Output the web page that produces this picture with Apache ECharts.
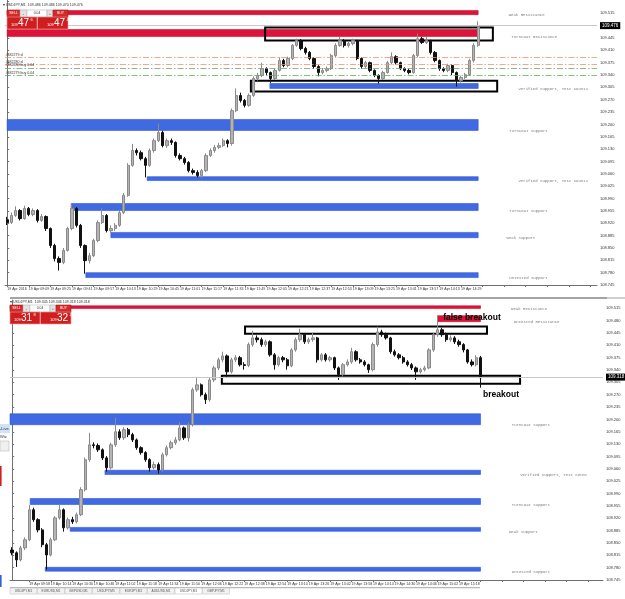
<!DOCTYPE html>
<html><head><meta charset="utf-8">
<script src="https://cdn.jsdelivr.net/npm/echarts@6/dist/echarts.min.js"></script>
<style>html,body{margin:0;padding:0;background:#fff;}#c{width:625px;height:599px;}</style>
</head><body><div id="c"></div><script>
// ================= DATA =================
// Top window (USDJPY M1, earlier snapshot)
const topOpen0 = 108.930;
const topClose = [
108.922,108.942,108.956,108.933,108.962,108.945,108.956,108.928,108.939,108.905,
108.857,108.820,108.809,108.843,108.905,108.962,108.914,108.857,108.814,108.828,
108.871,108.922,108.942,108.899,108.905,108.914,108.950,108.999,109.084,109.126,
109.120,109.103,109.084,109.126,109.154,109.177,109.140,109.154,109.149,109.112,
109.103,109.092,109.069,109.064,109.055,109.069,109.112,109.126,109.135,109.140,
109.154,109.146,109.239,109.282,109.268,109.254,109.282,109.330,109.339,109.358,
109.347,109.330,109.353,109.381,109.367,109.387,109.424,109.438,109.415,109.404,
109.387,109.364,109.347,109.353,109.358,109.395,109.424,109.438,109.424,109.429,
109.438,109.387,109.364,109.375,109.353,109.339,109.330,109.347,109.375,109.392,
109.375,109.358,109.353,109.347,109.395,109.443,109.432,109.438,109.404,109.381,
109.358,109.353,109.367,109.347,109.324,109.333,109.341,109.381,109.424,109.476];
const topHigh = [
108.938,108.950,108.968,108.960,108.970,108.966,108.962,108.960,108.946,108.942,
108.908,108.862,108.826,108.850,108.910,108.976,108.966,108.918,108.860,108.836,
108.876,108.928,108.962,108.946,108.914,108.920,108.956,109.006,109.090,109.145,
109.132,109.126,109.108,109.132,109.160,109.203,109.182,109.160,109.160,109.152,
109.118,109.108,109.096,109.075,109.070,109.074,109.118,109.132,109.142,109.148,
109.160,109.158,109.245,109.302,109.290,109.272,109.288,109.336,109.346,109.375,
109.362,109.350,109.358,109.390,109.386,109.392,109.428,109.443,109.442,109.420,
109.408,109.390,109.368,109.360,109.364,109.400,109.430,109.449,109.442,109.436,
109.443,109.440,109.390,109.380,109.378,109.356,109.342,109.352,109.380,109.404,
109.396,109.378,109.362,109.358,109.400,109.458,109.448,109.449,109.440,109.408,
109.384,109.362,109.372,109.370,109.350,109.338,109.346,109.386,109.430,109.492];
const topLow = [
108.915,108.918,108.938,108.928,108.930,108.940,108.940,108.922,108.924,108.898,
108.850,108.812,108.786,108.804,108.840,108.900,108.908,108.850,108.777,108.806,
108.824,108.866,108.918,108.894,108.893,108.898,108.910,108.946,108.995,109.080,
109.112,109.098,109.050,109.080,109.120,109.150,109.135,109.134,109.142,109.106,
109.098,109.086,109.064,109.058,109.050,109.047,109.065,109.108,109.120,109.130,
109.136,109.135,109.140,109.235,109.262,109.248,109.250,109.278,109.324,109.334,
109.340,109.318,109.326,109.350,109.362,109.362,109.382,109.420,109.410,109.398,
109.382,109.358,109.336,109.342,109.348,109.354,109.390,109.420,109.418,109.418,
109.424,109.382,109.358,109.360,109.348,109.334,109.316,109.326,109.344,109.370,
109.370,109.354,109.348,109.342,109.344,109.390,109.428,109.428,109.398,109.376,
109.352,109.348,109.348,109.340,109.307,109.318,109.328,109.338,109.376,109.420];
const topTickLabels = ['19 Apr 2016','19 Apr 09:09','19 Apr 09:25','19 Apr 09:41','19 Apr 09:57','19 Apr 10:13',
'19 Apr 10:29','19 Apr 10:45','19 Apr 11:01','19 Apr 11:17','19 Apr 11:33','19 Apr 11:49','19 Apr 12:05',
'19 Apr 12:21','19 Apr 12:37','19 Apr 12:53','19 Apr 13:09','19 Apr 13:25','19 Apr 13:41','19 Apr 13:57',
'19 Apr 14:13','19 Apr 14:29'];
const topPrice = 109.476;
const topZoneNames = ['Weak Resistance','Turncoat Resistance','Verified Support, Test Count1','Turncoat Support',
'Verified Support, Test Count1','Turncoat Support','Weak Support','Untested Support'];
const topZoneType = ['res','res','sup','sup','sup','sup','sup','sup'];
const topZoneStart = [0, 0, 60.8, 0, 32.4, 14.8, 24.0, 18.2];
const topZoneEnd = [109, 109, 109, 109, 109, 109, 109, 109];
const topZoneLow = [109.511, 109.449, 109.302, 109.183, 109.041, 108.956, 108.879, 108.766];
const topZoneHigh = [109.523, 109.469, 109.316, 109.214, 109.052, 108.976, 108.894, 108.780];
const topBoxStart = [59.7, 56.4];
const topBoxEnd = [112.4, 113.4];
const topBoxLow = [109.438, 109.293];
const topBoxHigh = [109.475, 109.324];
const topOrderNames = ['#482279 sl', '#482280 sl', '#482280 buy 0.04', '#482279 buy 0.04'];
const topOrderPrice = [109.395, 109.373, 109.361, 109.339];
const topOrderType = ['sl', 'sl', 'buy', 'buy'];

// Bottom window (USDJPY M1, later snapshot)
const botOpen0 = 108.830;
const botClose = [
108.822,108.802,108.836,108.859,108.944,108.916,108.887,108.845,108.816,108.859,
108.921,108.944,108.893,108.916,108.910,108.930,109.001,109.086,109.128,109.126,
109.114,109.091,109.063,109.128,109.165,109.148,109.171,109.157,109.142,109.120,
109.106,109.086,109.063,109.072,109.057,109.100,109.120,109.134,109.142,109.176,
109.148,109.185,109.284,109.298,109.270,109.256,109.312,109.346,109.369,109.380,
109.335,109.369,109.375,109.355,109.353,109.412,109.431,109.426,109.412,109.420,
109.383,109.355,109.375,109.369,109.352,109.397,109.426,109.440,109.420,109.426,
109.431,109.369,109.383,109.369,109.375,109.346,109.327,109.355,109.363,109.392,
109.369,109.363,109.355,109.341,109.412,109.448,109.440,109.431,109.392,109.383,
109.375,109.363,109.355,109.346,109.335,109.341,109.346,109.397,109.440,109.454,
109.440,109.426,109.431,109.420,109.412,109.397,109.363,109.355,109.375,109.318];
const botHigh = [
108.838,108.826,108.842,108.866,108.958,108.950,108.920,108.892,108.850,108.865,
108.926,108.958,108.948,108.922,108.924,108.936,109.008,109.092,109.162,109.135,
109.132,109.118,109.096,109.134,109.205,109.172,109.178,109.176,109.162,109.146,
109.124,109.110,109.090,109.080,109.078,109.106,109.126,109.140,109.150,109.193,
109.180,109.192,109.290,109.318,109.302,109.276,109.318,109.352,109.375,109.392,
109.384,109.375,109.382,109.380,109.362,109.418,109.451,109.438,109.432,109.426,
109.424,109.388,109.380,109.380,109.374,109.402,109.432,109.457,109.444,109.432,
109.446,109.434,109.388,109.388,109.380,109.378,109.350,109.360,109.370,109.403,
109.396,109.374,109.368,109.358,109.418,109.463,109.454,109.446,109.434,109.398,
109.388,109.380,109.368,109.360,109.350,109.346,109.352,109.402,109.446,109.494,
109.460,109.446,109.438,109.436,109.426,109.416,109.400,109.370,109.382,109.380];
const botLow = [
108.815,108.782,108.798,108.830,108.855,108.910,108.880,108.838,108.774,108.812,
108.855,108.916,108.882,108.888,108.904,108.905,108.926,108.996,109.080,109.118,
109.108,109.085,109.052,109.058,109.122,109.142,109.142,109.150,109.136,109.114,
109.100,109.080,109.052,109.058,109.046,109.052,109.095,109.115,109.128,109.138,
109.142,109.137,109.180,109.278,109.265,109.244,109.250,109.306,109.340,109.362,
109.318,109.330,109.362,109.350,109.341,109.348,109.406,109.418,109.406,109.406,
109.378,109.341,109.350,109.362,109.341,109.348,109.392,109.420,109.414,109.414,
109.420,109.361,109.364,109.364,109.364,109.340,109.312,109.322,109.350,109.358,
109.364,109.358,109.350,109.332,109.336,109.406,109.434,109.426,109.386,109.378,
109.370,109.358,109.350,109.340,109.312,109.330,109.336,109.342,109.392,109.434,
109.434,109.420,109.420,109.414,109.406,109.390,109.358,109.350,109.350,109.290];
const botTickLabels = ['19 Apr 2016','19 Apr 09:58','19 Apr 10:14','19 Apr 10:30','19 Apr 10:46','19 Apr 11:02',
'19 Apr 11:18','19 Apr 11:34','19 Apr 11:50','19 Apr 12:06','19 Apr 12:22','19 Apr 12:38','19 Apr 12:54',
'19 Apr 13:10','19 Apr 13:26','19 Apr 13:42','19 Apr 13:58','19 Apr 14:14','19 Apr 14:30','19 Apr 14:46',
'19 Apr 15:02','19 Apr 15:18'];
const botPrice = 109.318;
const botZoneNames = ['Weak Resistance','Untested Resistance','Turncoat Support','Verified Support, Test Count',
'Turncoat Support','Weak Support','Untested Support'];
const botZoneType = ['res','res','sup','sup','sup','sup','sup'];
const botZoneStart = [-0.5, 99, -0.5, 21.6, 4.2, 13.5, 7.7];
const botZoneEnd = [109, 109, 109, 109, 109, 109, 109];
const botZoneLow = [109.514, 109.477, 109.185, 109.044, 108.959, 108.883, 108.770];
const botZoneHigh = [109.522, 109.494, 109.216, 109.056, 108.976, 108.894, 108.781];
const botBoxStart = [54.2, 48.8];
const botBoxEnd = [110.5, 118.2];
const botBoxLow = [109.443, 109.301];
const botBoxHigh = [109.463, 109.324];
const botNotes = ['false breakout', 'breakout'];
const botNoteX = [100.3, 109.6];
const botNotePrice = [109.488, 109.270];

// ================= CHART =================
const N_TOP = 137, N_BOT = 138;
const Y_MIN = 108.745, Y_STEP = 0.035, Y_LABEL_CAP = 109.54;

function ohlc(open0, close, low, high) {
  const out = []; let o = open0;
  for (let i = 0; i < close.length; i++) { out.push([o, close[i], low[i], high[i]]); o = close[i]; }
  return out;
}
function cats(n) { const a = []; for (let i = 0; i < n; i++) a.push('c' + i); return a; }
function topLabelAt(i) { return i % 5 === 0 ? topTickLabels[i / 5] : null; }
function botLabelAt(i) {
  if (i === 0) return botTickLabels[0];
  if (i >= 4 && (i - 4) % 5 === 0) return botTickLabels[1 + (i - 4) / 5];
  return null;
}
const RED = '#dc143c', BLUE = '#4169e1';
function zoneAreas(start, end, low, high, type) {
  return start.map((s, k) => [
    { coord: [s, low[k]], itemStyle: { color: type[k] === 'res' ? RED : BLUE,
      borderColor: type[k] === 'res' ? '#c8102e' : '#2c55d6', borderWidth: 0.6 } },
    { coord: [end[k], high[k]] }
  ]);
}
function boxAreas(start, end, low, high) {
  return start.map((s, k) => [
    { coord: [s, low[k]], itemStyle: { color: 'rgba(0,0,0,0)', borderColor: '#000', borderWidth: 2 } },
    { coord: [end[k], high[k]] }
  ]);
}
function priceLine(p) {
  return { yAxis: p, lineStyle: { color: '#c8c8c8', type: 'solid', width: 1 },
    label: { show: true, position: 'end', formatter: p.toFixed(3), backgroundColor: '#000', color: '#fff',
      fontSize: 4.5, fontFamily: 'Liberation Sans', padding: [1, 2], distance: 3 } };
}
const xCat = (grid, n, labelAt) => ({
  type: 'category', gridIndex: grid, data: cats(n), boundaryGap: true,
  axisLine: { show: true, lineStyle: { color: '#707070', width: 1 } },
  axisTick: { show: true, length: 2, alignWithLabel: true, interval: (i) => labelAt(i) !== null, lineStyle: { color: '#707070' } },
  axisLabel: { show: true, interval: (i) => labelAt(i) !== null, formatter: (v, i) => labelAt(i) || '',
    fontSize: 3.6, color: '#333', align: 'left', margin: 2, fontFamily: 'Liberation Sans' },
  splitLine: { show: false }
});
const xVal = (grid, n) => ({ type: 'value', gridIndex: grid, min: -0.5, max: n - 0.5, show: false, splitLine: { show: false } });
const yAx = (grid, max) => ({
  type: 'value', gridIndex: grid, position: 'right', min: Y_MIN, max: max, interval: Y_STEP,
  axisLine: { show: true, lineStyle: { color: '#707070', width: 1 } },
  axisTick: { show: true, length: 2, lineStyle: { color: '#707070' } },
  axisLabel: { fontSize: 4, color: '#333', margin: 3, showMaxLabel: false,
    formatter: (v) => (v > Y_LABEL_CAP ? '' : v.toFixed(3)), fontFamily: 'Liberation Sans' },
  splitLine: { show: false }
});
const candleStyle = { color: '#b4b4b4', color0: '#111111', borderColor: '#8a8a8a', borderColor0: '#111111', borderWidth: 1 };

const chart = echarts.init(document.getElementById('c'), null, { renderer: 'canvas' });
const option = {
  animation: false,
  backgroundColor: '#ffffff',
  grid: [
    { left: 5, top: 0, width: 592, height: 285 },
    { left: 10, top: 300, width: 593, height: 280 }
  ],
  xAxis: [ xCat(0, N_TOP, topLabelAt), xCat(1, N_BOT, botLabelAt), xVal(0, N_TOP), xVal(1, N_BOT) ],
  yAxis: [ yAx(0, Y_MIN + 285 / 352.9), yAx(1, Y_MIN + 280 / 352.9) ],
  series: [
    { type: 'candlestick', xAxisIndex: 0, yAxisIndex: 0, z: 3, barWidth: 2.8,
      data: ohlc(topOpen0, topClose, topLow, topHigh), itemStyle: candleStyle },
    { type: 'line', xAxisIndex: 2, yAxisIndex: 0, z: 1, data: [], silent: true, showSymbol: false,
      markArea: { silent: true, label: { show: false }, data: zoneAreas(topZoneStart, topZoneEnd, topZoneLow, topZoneHigh, topZoneType) },
      markLine: { silent: true, symbol: ['none', 'none'], animation: false,
        data: topOrderPrice.map((p, k) => ({ yAxis: p,
          lineStyle: { color: topOrderType[k] === 'sl' ? '#f29070' : '#6aaa6a', type: [6, 2, 1.5, 2], width: 0.8 },
          label: { show: true, position: 'insideStartTop', formatter: topOrderNames[k], fontSize: 3.6, color: '#333', distance: 0.5, fontFamily: 'Liberation Sans' } }))
          .concat([priceLine(topPrice)]) } },
    { type: 'candlestick', xAxisIndex: 1, yAxisIndex: 1, z: 3, barWidth: 2.8,
      data: ohlc(botOpen0, botClose, botLow, botHigh), itemStyle: candleStyle },
    { type: 'line', xAxisIndex: 3, yAxisIndex: 1, z: 1, data: [], silent: true, showSymbol: false,
      markArea: { silent: true, label: { show: false }, data: zoneAreas(botZoneStart, botZoneEnd, botZoneLow, botZoneHigh, botZoneType) },
      markLine: { silent: true, symbol: ['none', 'none'], data: [priceLine(botPrice)] } },
    { type: 'line', xAxisIndex: 2, yAxisIndex: 0, z: 4, data: [], silent: true, showSymbol: false,
      markArea: { silent: true, label: { show: false }, data: boxAreas(topBoxStart, topBoxEnd, topBoxLow, topBoxHigh) } },
    { type: 'line', xAxisIndex: 3, yAxisIndex: 1, z: 4, data: [], silent: true, showSymbol: false,
      markArea: { silent: true, label: { show: false }, data: boxAreas(botBoxStart, botBoxEnd, botBoxLow, botBoxHigh) } }
  ]
};
chart.setOption(option);

// ---------- decorations / text ----------
const g = [];
function txt(x, y, text, font, fill, align, valign, z) {
  g.push({ type: 'text', x: x, y: y, z: z || 50, silent: true,
    style: { text: text, font: font, fill: fill, align: align || 'left', verticalAlign: valign || 'middle',
             textAlign: align || 'left', textVerticalAlign: valign || 'middle' } });
}
function rect(x, y, w, h, fill, stroke, z) {
  g.push({ type: 'rect', z: z || 40, silent: true, shape: { x: x, y: y, width: w, height: h },
    style: { fill: fill, stroke: stroke || null, lineWidth: stroke ? 0.6 : 0 } });
}
function zoneLabels(si, names, end, low) {
  names.forEach((n, k) => {
    const p = chart.convertToPixel({ seriesIndex: si }, [end[k], low[k]]);
    txt(p[0] + 20 + 0.7 * n.length, p[1] + 0.5, n, '4px "Liberation Mono"', '#7a7a7a', 'left', 'middle', 30);
  });
}
zoneLabels(1, topZoneNames, topZoneEnd, topZoneLow);
zoneLabels(3, botZoneNames, botZoneEnd, botZoneLow);
botNotes.forEach((n, k) => {
  const p = chart.convertToPixel({ seriesIndex: 3 }, [botNoteX[k], botNotePrice[k]]);
  txt(p[0], p[1], n, 'bold 8.5px "Liberation Sans"', '#000', 'left', 'middle', 60);
});

// headers
txt(3, 5, '\u25BE USDJPY,M1  109.486 109.486 109.470 109.476', '3.6px "Liberation Sans"', '#333');
txt(10, 302, '\u25BE USDJPY,M1  109.345 109.346 109.318 109.318', '3.6px "Liberation Sans"', '#333');

// one-click trading panels
function panel(x0, y0, big1, sup1, big2, sup2) {
  rect(x0, y0, 13, 7, '#d42a2a', '#b01818');
  txt(x0 + 6.5, y0 + 3.5, 'SELL', '3.4px "Liberation Sans"', '#fff', 'center');
  rect(x0 + 13, y0, 7, 7, '#e4e4e4', '#b0b0b0');
  txt(x0 + 16.5, y0 + 3.5, '-', '4px "Liberation Sans"', '#555', 'center');
  rect(x0 + 20, y0, 20, 7, '#ffffff', '#c0c0c0');
  txt(x0 + 30, y0 + 3.5, '0.04', '3.4px "Liberation Sans"', '#333', 'center');
  rect(x0 + 40, y0, 6, 7, '#e4e4e4', '#b0b0b0');
  txt(x0 + 43, y0 + 3.5, '+', '4px "Liberation Sans"', '#555', 'center');
  rect(x0 + 46, y0, 15, 7, '#d42a2a', '#b01818');
  txt(x0 + 53.5, y0 + 3.5, 'BUY', '3.4px "Liberation Sans"', '#fff', 'center');
  rect(x0, y0 + 7, 30, 12, '#d01e1e', '#f2a0a0');
  rect(x0 + 30.5, y0 + 7, 30.5, 12, '#d01e1e', '#f2a0a0');
  txt(x0 + 4, y0 + 15, '109', '4px "Liberation Sans"', '#fff');
  txt(x0 + 11, y0 + 13.5, big1, '10px "Liberation Sans"', '#fff');
  txt(x0 + 23.5, y0 + 10, sup1, '4px "Liberation Sans"', '#fff');
  txt(x0 + 40, y0 + 15, '109', '4px "Liberation Sans"', '#fff');
  txt(x0 + 47, y0 + 13.5, big2, '10px "Liberation Sans"', '#fff');
  txt(x0 + 59.5, y0 + 10, sup2, '4px "Liberation Sans"', '#fff');
}
panel(7, 10, '47', '6', '47', '4');
panel(10, 305, '31', '8', '32', '2');

// separator / scrollbar between windows
rect(10, 297, 597, 2, '#a4a4a4', null, 20);
rect(607, 297, 18, 2, '#d0d0d0', null, 20);
// bottom tab bar
rect(10, 587, 470, 1.2, '#b8b8b8', null, 20);
const tabs = ['USDJPY,M1', 'EURUSD,M1', 'GBPUSD,M1', 'USDJPY,M5', 'EURJPY,M1', 'AUDUSD,M1', 'USDJPY,M1', 'GBPJPY,M1'];
tabs.forEach((t, k) => {
  const x = 10 + k * 27.5;
  rect(x, 588, 27, 6, k === 6 ? '#ffffff' : '#f2f2f2', '#c4c4c4', 20);
  txt(x + 13.5, 591, t, '3.2px "Liberation Sans"', '#555', 'center');
});
// left navigator fragments
rect(0, 424, 10, 9, '#cfe2f6', null, 20);
txt(0, 428.5, '-Live', '4px "Liberation Sans"', '#333');
txt(0, 437, 'Wiz', '4px "Liberation Sans"', '#333');
rect(0, 441, 9, 10, '#f0f0f0', '#bdbdbd', 20);
rect(0, 466, 1.6, 20, '#d02020', null, 20);
rect(0, 575, 1.6, 12, '#3060d0', null, 20);

chart.setOption({ graphic: g });
</script></body></html>
